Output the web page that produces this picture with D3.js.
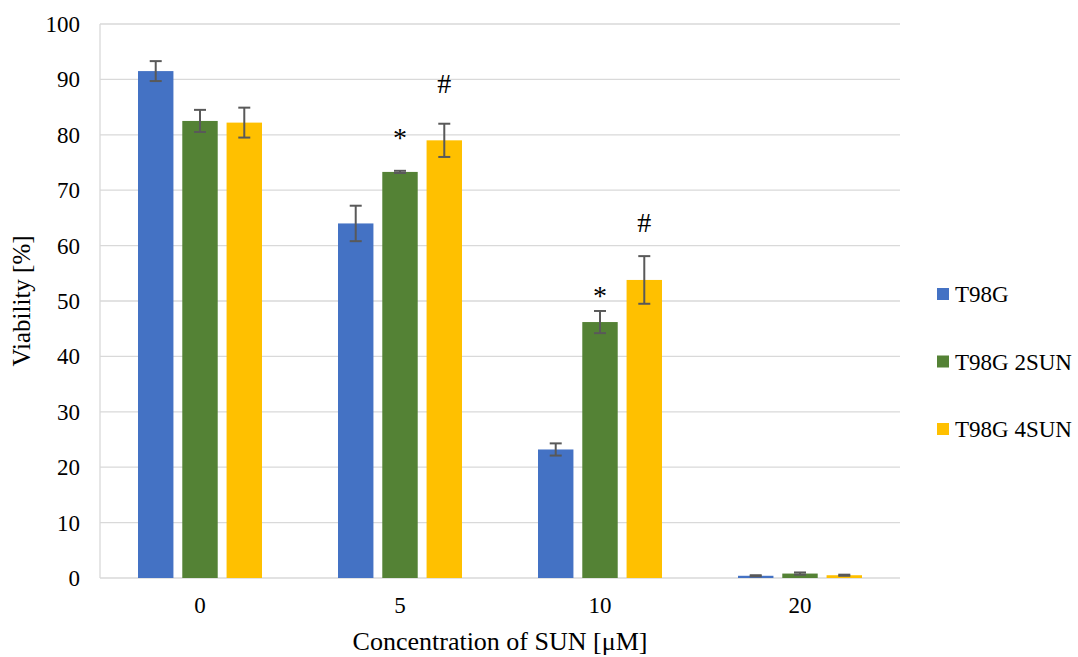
<!DOCTYPE html>
<html>
<head>
<meta charset="utf-8">
<script src="https://cdn.jsdelivr.net/npm/d3@7"></script>
<style>
  body { margin: 0; background: #fff; }
  svg text { font-family: "Liberation Serif", "Times New Roman", serif; fill: #000; }
</style>
</head>
<body>
<div id="chart"></div>
<script>
// data
const concentrations = ["0", "5", "10", "20"];
const seriesNames = ["T98G", "T98G 2SUN", "T98G 4SUN"];
const seriesColors = ["#4472C4", "#548235", "#FFC000"];
const t98g = [91.5, 64.0, 23.2, 0.4];
const t98g2sun = [82.5, 73.3, 46.2, 0.8];
const t98g4sun = [82.2, 79.0, 53.8, 0.5];
const t98gErr = [1.8, 3.2, 1.1, 0.1];
const t98g2sunErr = [2.0, 0.2, 2.0, 0.2];
const t98g4sunErr = [2.7, 3.0, 4.3, 0.1];
const yTicks = [0, 10, 20, 30, 40, 50, 60, 70, 80, 90, 100];
// significance marks: [concentration, series, symbol, y value of symbol]
const marks = [
    ["5", "T98G 2SUN", "*", 79.5],
    ["5", "T98G 4SUN", "#", 89.3],
    ["10", "T98G 2SUN", "*", 51.0],
    ["10", "T98G 4SUN", "#", 64.3]
];

const values = [t98g, t98g2sun, t98g4sun];
const errors = [t98gErr, t98g2sunErr, t98g4sunErr];

var width = 1078;
var height = 657;
const margins = {top: 24, bottom: 79, left: 100, right: 178};
var plotW = width - margins.left - margins.right;
var plotH = height - margins.top - margins.bottom;

var svg = d3.select('#chart')
    .append('svg')
    .attr('width', width)
    .attr('height', height)
    .attr('font-family', '"Liberation Serif", "Times New Roman", serif');

var x0 = d3.scaleBand()
    .domain(concentrations)
    .range([0, plotW])
    .paddingInner(0)
    .paddingOuter(0);

var x1 = d3.scaleBand()
    .domain(seriesNames)
    .range([38, x0.bandwidth() - 38])
    .paddingInner(0.2);

var y = d3.scaleLinear()
    .domain([0, 100])
    .range([plotH, 0]);

var g = svg.append('g')
    .attr('transform', 'translate(' + margins.left + ',' + margins.top + ')');

// gridlines
g.selectAll('.grid')
    .data(yTicks)
    .enter()
    .append('line')
    .attr('x1', 0)
    .attr('x2', plotW)
    .attr('y1', d => y(d))
    .attr('y2', d => y(d))
    .attr('stroke', '#d9d9d9')
    .attr('stroke-width', 1.3);

// left axis line
g.append('line')
    .attr('x1', 0).attr('x2', 0)
    .attr('y1', 0).attr('y2', plotH)
    .attr('stroke', '#d9d9d9')
    .attr('stroke-width', 1.3);

// y tick labels
g.selectAll('.ytick')
    .data(yTicks)
    .enter()
    .append('text')
    .attr('x', -20)
    .attr('y', d => y(d))
    .attr('dy', '0.35em')
    .attr('text-anchor', 'end')
    .attr('font-size', '23px')
    .text(d => d);

// x tick labels
g.selectAll('.xtick')
    .data(concentrations)
    .enter()
    .append('text')
    .attr('x', d => x0(d) + x0.bandwidth() / 2)
    .attr('y', plotH + 35)
    .attr('text-anchor', 'middle')
    .attr('font-size', '23px')
    .text(d => d);

// bars
var rows = [];
concentrations.forEach(function (c, i) {
    seriesNames.forEach(function (s, j) {
        rows.push({conc: c, series: s, value: values[j][i], err: errors[j][i], color: seriesColors[j]});
    });
});

g.selectAll('rect.bar')
    .data(rows)
    .enter()
    .append('rect')
    .attr('class', 'bar')
    .attr('x', d => x0(d.conc) + x1(d.series))
    .attr('y', d => y(d.value))
    .attr('width', x1.bandwidth())
    .attr('height', d => plotH - y(d.value))
    .attr('fill', d => d.color);

// error bars
var eb = g.selectAll('g.err')
    .data(rows)
    .enter()
    .append('g')
    .attr('stroke', '#595959')
    .attr('stroke-width', 2);

eb.append('line')
    .attr('x1', d => x0(d.conc) + x1(d.series) + x1.bandwidth() / 2)
    .attr('x2', d => x0(d.conc) + x1(d.series) + x1.bandwidth() / 2)
    .attr('y1', d => y(d.value + d.err))
    .attr('y2', d => y(d.value - d.err));

eb.selectAll('line.cap')
    .data(d => [d.value + d.err, d.value - d.err].map(v => ({d: d, v: v})))
    .enter()
    .append('line')
    .attr('x1', e => x0(e.d.conc) + x1(e.d.series) + x1.bandwidth() / 2 - 6)
    .attr('x2', e => x0(e.d.conc) + x1(e.d.series) + x1.bandwidth() / 2 + 6)
    .attr('y1', e => y(e.v))
    .attr('y2', e => y(e.v));

// significance marks
g.selectAll('.mark')
    .data(marks)
    .enter()
    .append('text')
    .attr('x', d => x0(d[0]) + x1(d[1]) + x1.bandwidth() / 2)
    .attr('y', d => y(d[3]))
    .attr('dy', '0.35em')
    .attr('text-anchor', 'middle')
    .attr('font-size', '28px')
    .text(d => d[2]);

// axis titles
svg.append('text')
    .attr('x', margins.left + plotW / 2)
    .attr('y', 650)
    .attr('text-anchor', 'middle')
    .attr('font-size', '26px')
    .text('Concentration of SUN [μM]');

svg.append('text')
    .attr('transform', 'translate(30,' + (margins.top + plotH / 2) + ') rotate(-90)')
    .attr('text-anchor', 'middle')
    .attr('font-size', '25px')
    .text('Viability [%]');

// legend
var legend = svg.selectAll('.legend')
    .data(seriesNames)
    .enter()
    .append('g')
    .attr('transform', (d, i) => 'translate(937,' + (294 + i * 67.5) + ')');

legend.append('rect')
    .attr('x', 0)
    .attr('y', -6)
    .attr('width', 12)
    .attr('height', 12)
    .attr('fill', (d, i) => seriesColors[i]);

legend.append('text')
    .attr('x', 18)
    .attr('y', 0)
    .attr('dy', '0.35em')
    .attr('font-size', '23px')
    .text(d => d);
</script>
</body>
</html>
